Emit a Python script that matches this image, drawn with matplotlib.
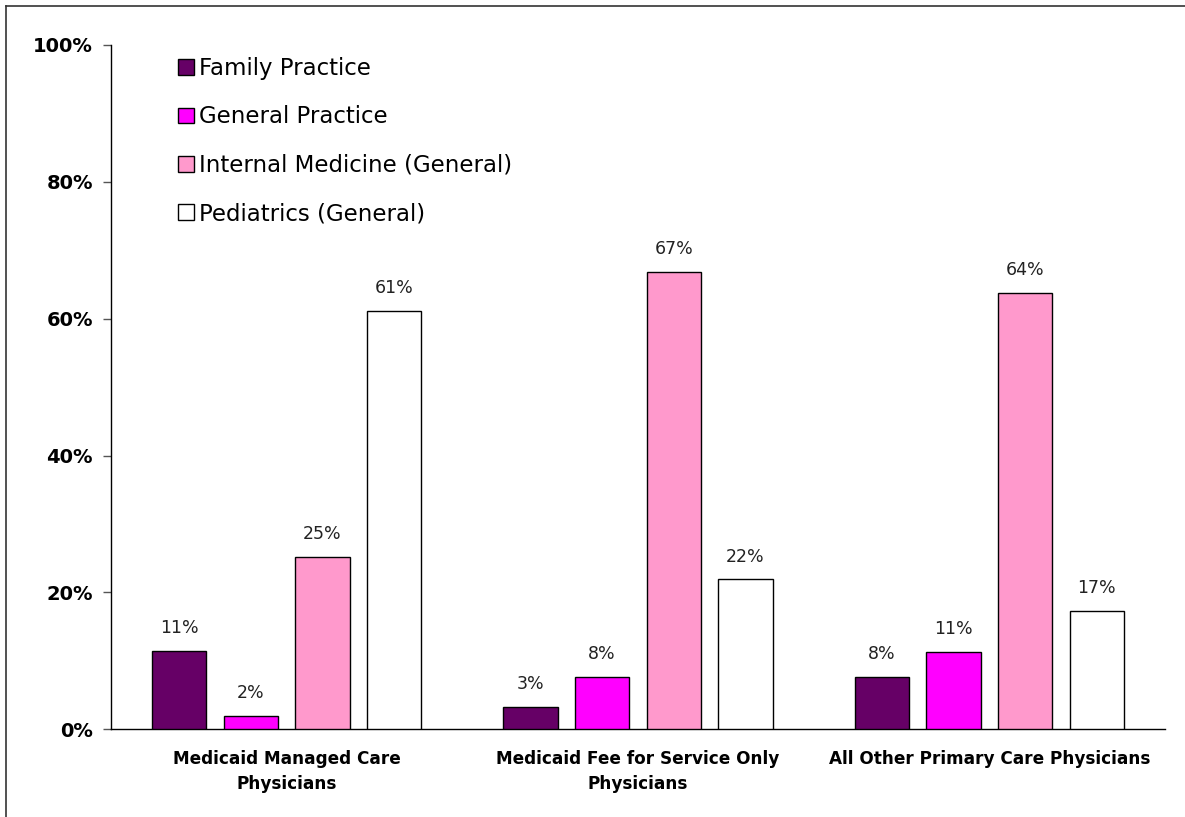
import matplotlib
matplotlib.use("Agg")
import matplotlib.pyplot as plt
import numpy as np
from matplotlib.lines import Line2D

plt.rcParams['font.family'] = ['DejaVu Sans']

categories = ["Medicaid Managed Care\nPhysicians",
              "Medicaid Fee for Service Only\nPhysicians",
              "All Other Primary Care Physicians"]
series_names = ["Family Practice", "General Practice",
                "Internal Medicine (General)", "Pediatrics (General)"]
family = [11.4, 3.3, 7.6]
general = [2.0, 7.7, 11.3]
internal = [25.2, 66.9, 63.7]
pediatrics = [61.2, 21.9, 17.3]
yticks = [0, 20, 40, 60, 80, 100]
ytick_labels = ["0%", "20%", "40%", "60%", "80%", "100%"]

colors = ["#660066", "#FF00FF", "#FF99CC", "#FFFFFF"]

W, H = 1185, 817
fig = plt.figure(figsize=(W / 100, H / 100), dpi=100)
ax = fig.add_axes([111 / W, 1 - 729.3 / H, (1165 - 111) / W, (729.3 - 45) / H])

x = np.arange(len(categories))
pitch = 0.204
width = 0.155
all_series = [family, general, internal, pediatrics]
for i, (vals, name, col) in enumerate(zip(all_series, series_names, colors)):
    pos = x + (i - 1.5) * pitch
    bars = ax.bar(pos, vals, width=width, color=col, edgecolor="black",
                  linewidth=1.0, label=name, zorder=3)
    for b, v in zip(bars, vals):
        ax.annotate(f"{round(v)}%", (b.get_x() + b.get_width() / 2, v),
                    xytext=(0, 16.5), textcoords="offset points",
                    ha="center", va="center", fontsize=12.5, color="#222222")

ax.set_xlim(-0.5, 2.5)
ax.set_ylim(0, 100)
ax.set_yticks(yticks)
ax.set_yticklabels(ytick_labels, fontsize=14, fontweight="bold")
ax.set_xticks(x)
ax.set_xticklabels(categories, fontsize=12.2, fontweight="bold", linespacing=1.5)
ax.tick_params(axis="y", direction="out", length=6, width=1, pad=7, color="#555555")
ax.tick_params(axis="x", length=0, pad=15)
for s in ["top", "right"]:
    ax.spines[s].set_visible(False)
for s in ["left", "bottom"]:
    ax.spines[s].set_linewidth(1.0)
    ax.spines[s].set_color("black")

leg = ax.legend(loc="upper left", bbox_to_anchor=(178 / W, 1 - 57 / H),
                bbox_transform=fig.transFigure, frameon=False, fontsize=16.5,
                handlelength=0.68, handleheight=0.68, handletextpad=0.22,
                labelspacing=1.11, borderpad=0, borderaxespad=0)

# figure border (top and left visible)
fig.add_artist(Line2D([6 / W, 6 / W], [0, 1 - 6 / H], transform=fig.transFigure,
                      color="#333333", linewidth=1.2))
fig.add_artist(Line2D([6 / W, 1], [1 - 6 / H, 1 - 6 / H], transform=fig.transFigure,
                      color="#333333", linewidth=1.2))

fig.savefig("out.png", dpi=100)
